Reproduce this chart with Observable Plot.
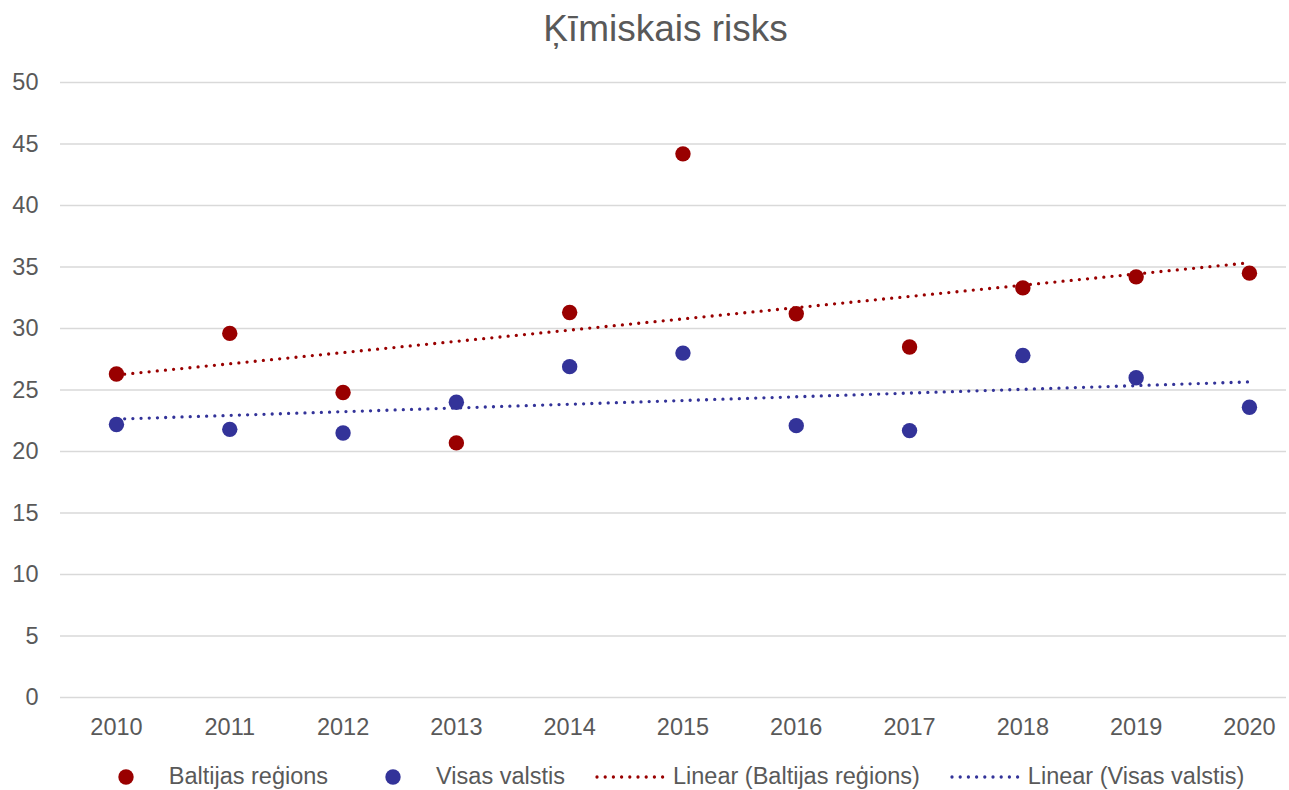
<!DOCTYPE html>
<html>
<head>
<meta charset="utf-8">
<script src="https://cdn.jsdelivr.net/npm/d3@7"></script>
<script src="https://cdn.jsdelivr.net/npm/@observablehq/plot@0.6"></script>
<style>
  html, body { margin: 0; padding: 0; background: #fff; }
  body { width: 1289px; height: 790px; overflow: hidden; font-family: "Liberation Sans", Arial, sans-serif; color: #595959; }
  #title { height: 55px; line-height: 57px; font-size: 37px; text-align: center; padding-left: 42px; box-sizing: border-box; }
  #chart svg { display: block; }
  #legend { height: 45px; display: flex; justify-content: center; align-items: center; gap: 30px; font-size: 23.5px; padding-left: 46px; padding-top: 8px; box-sizing: border-box; }
  .item { display: flex; align-items: center; gap: 8px; }
  .item svg { display: block; }
</style>
</head>
<body>
<div id="title">Ķīmiskais risks</div>
<div id="chart"></div>
<div id="legend"></div>
<script>
const years = [2010, 2011, 2012, 2013, 2014, 2015, 2016, 2017, 2018, 2019, 2020];
const baltijasRegions = [26.3, 29.6, 24.8, 20.7, 31.3, 44.2, 31.2, 28.5, 33.3, 34.2, 34.5];
const visasValstis = [22.2, 21.8, 21.5, 24.0, 26.9, 28.0, 22.1, 21.7, 27.8, 26.0, 23.6];
const seriesNames = ["Baltijas reģions", "Visas valstis"];
const trendNames = ["Linear (Baltijas reģions)", "Linear (Visas valstis)"];
const yTicks = [0, 5, 10, 15, 20, 25, 30, 35, 40, 45, 50];

const colors = ["#990000", "#333399"];
const data = [
  ...years.map((y, i) => ({year: y, value: baltijasRegions[i], series: seriesNames[0]})),
  ...years.map((y, i) => ({year: y, value: visasValstis[i], series: seriesNames[1]}))
];

const plot = Plot.plot({
  width: 1289,
  height: 695,
  marginTop: 27,
  marginBottom: 53,
  marginLeft: 60,
  marginRight: 3,
  style: {fontFamily: '"Liberation Sans", Arial, sans-serif', fontSize: "23.5px", color: "#595959", background: "#fff"},
  x: {domain: [2009.506, 2020.327], ticks: years, tickFormat: d => String(d), tickSize: 0, tickPadding: 21, label: null},
  y: {domain: [0, 50], ticks: yTicks, tickSize: 0, tickPadding: 22, label: null},
  color: {domain: seriesNames, range: colors},
  marks: [
    Plot.gridY(yTicks, {stroke: "#d9d9d9", strokeOpacity: 1, strokeWidth: 1.5}),
    Plot.axisY({ticks: yTicks, tickSize: 0, tickPadding: 22, fill: "#595959", label: null}),
    Plot.axisX({ticks: years, tickFormat: d => String(d), tickSize: 0, tickPadding: 21, fill: "#595959", label: null}),
    Plot.linearRegressionY(data, {x: "year", y: "value", stroke: "series", ci: 0, strokeWidth: 3.3, strokeDasharray: "0 8.2", strokeLinecap: "round"}),
    Plot.dot(data, {x: "year", y: "value", fill: "series", r: 7.7, stroke: null})
  ]
});
document.getElementById("chart").appendChild(plot);

// Legend
const legend = document.getElementById("legend");
const items = [
  {label: seriesNames[0], color: colors[0], type: "dot"},
  {label: seriesNames[1], color: colors[1], type: "dot"},
  {label: trendNames[0], color: colors[0], type: "line"},
  {label: trendNames[1], color: colors[1], type: "line"}
];
for (const it of items) {
  const div = document.createElement("div");
  div.className = "item";
  const sym = it.type === "dot"
    ? `<svg width="70" height="20"><circle cx="35" cy="10" r="7.7" fill="${it.color}"/></svg>`
    : `<svg width="70" height="20"><line x1="2" y1="10" x2="68" y2="10" stroke="${it.color}" stroke-width="3.3" stroke-dasharray="0 8.2" stroke-linecap="round"/></svg>`;
  div.innerHTML = sym + `<span>${it.label}</span>`;
  legend.appendChild(div);
}
</script>
</body>
</html>
